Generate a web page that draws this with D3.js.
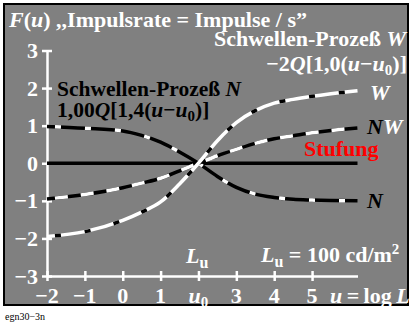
<!DOCTYPE html>
<html>
<head>
<meta charset="utf-8">
<script src="https://cdn.jsdelivr.net/npm/d3@7"></script>
<style>
  body { margin: 0; background: #fff; }
  text { font-family: "Liberation Serif", "Times New Roman", serif; }
</style>
</head>
<body>
<div id="chart"></div>
<script>
// values
var uTicks = [-2, -1, 0, 1, 2, 3, 4, 5];
var uTickLabels = ["\u22122", "\u22121", "0", "1", "u0", "3", "4", "5"];
var yTicks = [-3, -2, -1, 0, 1, 2, 3];
var yTickLabels = ["\u22123", "\u22122", "\u22121", "0", "1", "2", "3"];
var uSample = [-2, -1, 0, 0.5, 1, 1.5, 2, 2.5, 3, 3.5, 4, 4.5, 5, 6.2];
var seriesN  = [0.98, 0.93, 0.86, 0.74, 0.56, 0.3, 0.0, -0.35, -0.64, -0.82, -0.91, -0.96, -0.98, -1.0];
var seriesNW = [-0.95, -0.83, -0.65, -0.53, -0.4, -0.2, 0.0, 0.2, 0.37, 0.53, 0.65, 0.73, 0.81, 0.94];
var seriesW  = [-1.95, -1.82, -1.52, -1.3, -1.03, -0.55, 0.0, 0.6, 1.08, 1.4, 1.6, 1.7, 1.78, 1.93];
var seriesStep = [0, 0];
var uStep = [-2, 6.2];

var width = 411, height = 325;
var svg = d3.select("#chart").append("svg")
	.attr("width", width)
	.attr("height", height);

svg.append("rect")
	.attr("x", 4).attr("y", 4)
	.attr("width", 404).attr("height", 301)
	.attr("fill", "#808080")
	.attr("stroke", "#000")
	.attr("stroke-width", 2);

var x = d3.scaleLinear().domain([-2, 6.2]).range([47, 357.5]);
var y = d3.scaleLinear().domain([-3, 3]).range([276, 50.5]);

// axes
var gx = svg.append("g").attr("transform", "translate(0," + y(-3) + ")")
	.call(d3.axisBottom(x).tickValues(uTicks).tickFormat("").tickSizeOuter(0));
var gy = svg.append("g").attr("transform", "translate(" + x(-2) + ",0)")
	.call(d3.axisLeft(y).tickValues(yTicks).tickFormat("").tickSizeOuter(0));
gx.selectAll("line").attr("y1", -5).attr("y2", 5);
gy.selectAll("line").attr("x1", -5).attr("x2", 5);
svg.selectAll(".domain, .tick line")
	.attr("stroke", "#fff")
	.attr("stroke-width", 2.5);

// tick labels
svg.selectAll(".ylab")
	.data(yTicks)
	.enter()
	.append("text")
	.attr("x", 38)
	.attr("y", function(d) { return y(d) + 7.5; })
	.attr("text-anchor", "end")
	.style("font-size", "22px")
	.style("font-weight", "bold")
	.style("fill", "#fff")
	.text(function(d, i) { return yTickLabels[i]; });

var xl = svg.selectAll(".xlab")
	.data(uTicks)
	.enter()
	.append("text")
	.attr("x", function(d) { return x(d); })
	.attr("y", 303)
	.attr("text-anchor", "middle")
	.style("font-size", "22px")
	.style("font-weight", "bold")
	.style("fill", "#fff");
xl.each(function(d, i) {
	var t = d3.select(this);
	if (uTickLabels[i] == "u0") {
		t.append("tspan").style("font-style", "italic").text("u");
		t.append("tspan").attr("dy", 4).style("font-size", "15px").text("0");
	} else {
		t.text(uTickLabels[i]);
	}
});

// curves
var line = d3.line()
	.x(function(d) { return x(d[0]); })
	.y(function(d) { return y(d[1]); })
	.curve(d3.curveMonotoneX);

function pts(vals) { return uSample.map(function(u, i) { return [u, vals[i]]; }); }

svg.append("path")
	.attr("d", line(uStep.map(function(u, i) { return [u, seriesStep[i]]; })))
	.attr("fill", "none").attr("stroke", "#000").attr("stroke-width", 3.5);

var curves = [
	{ v: seriesN,  base: "#000", dash: "#fff", pat: "6,24" },
	{ v: seriesNW, base: "#000", dash: "#fff", pat: "13,13" },
	{ v: seriesW,  base: "#fff", dash: "#000", pat: "6,24" }
];
curves.forEach(function(c) {
	svg.append("path").attr("d", line(pts(c.v)))
		.attr("fill", "none").attr("stroke", c.base).attr("stroke-width", 3.5);
	svg.append("path").attr("d", line(pts(c.v)))
		.attr("fill", "none").attr("stroke", c.dash).attr("stroke-width", 3.5)
		.attr("stroke-dasharray", c.pat).attr("stroke-dashoffset", -8);
});

// texts
function txt(xp, yp, size, color, anchor) {
	return svg.append("text").attr("x", xp).attr("y", yp)
		.attr("text-anchor", anchor || "start")
		.style("font-size", size + "px")
		.style("font-weight", "bold")
		.style("fill", color);
}

var t = txt(9, 27, 22, "#fff");
t.append("tspan").style("font-style", "italic").text("F");
t.append("tspan").text("(");
t.append("tspan").style("font-style", "italic").text("u");
t.append("tspan").text(")  ,,Impulsrate = Impulse / s\u201d");

t = txt(406, 46, 22, "#fff", "end");
t.append("tspan").text("Schwellen-Proze\u00df ");
t.append("tspan").style("font-style", "italic").text("W");

t = txt(407, 71, 22, "#fff", "end");
t.append("tspan").text("\u22122");
t.append("tspan").style("font-style", "italic").text("Q");
t.append("tspan").text("[1,0(");
t.append("tspan").style("font-style", "italic").text("u");
t.append("tspan").text("\u2212");
t.append("tspan").style("font-style", "italic").text("u");
t.append("tspan").attr("dy", 4).style("font-size", "15px").text("0");
t.append("tspan").attr("dy", -4).text(")]");

t = txt(57, 96, 21.5, "#000");
t.append("tspan").text("Schwellen-Proze\u00df ");
t.append("tspan").style("font-style", "italic").text("N");

t = txt(57, 117, 21.5, "#000");
t.append("tspan").text("1,00");
t.append("tspan").style("font-style", "italic").text("Q");
t.append("tspan").text("[1,4(");
t.append("tspan").style("font-style", "italic").text("u");
t.append("tspan").text("\u2212");
t.append("tspan").style("font-style", "italic").text("u");
t.append("tspan").attr("dy", 4).style("font-size", "15px").text("0");
t.append("tspan").attr("dy", -4).text(")]");

txt(370, 100, 22, "#fff").style("font-style", "italic").text("W");
t = txt(367, 134, 22, "#000").style("font-style", "italic");
t.append("tspan").text("N");
t.append("tspan").style("fill", "#fff").text("W");
txt(304, 156, 22, "#f00").text("Stufung");
txt(367, 208, 22, "#000").style("font-style", "italic").text("N");

t = txt(186, 263, 22, "#fff");
t.append("tspan").style("font-style", "italic").text("L");
t.append("tspan").attr("dy", 5).style("font-size", "16px").text("u");

t = txt(261, 262, 22, "#fff");
t.append("tspan").style("font-style", "italic").text("L");
t.append("tspan").attr("dy", 5).style("font-size", "16px").text("u");
t.append("tspan").attr("dy", -5).text(" = 100 cd/m");
t.append("tspan").attr("dy", -8).style("font-size", "15px").text("2");

t = txt(330, 303, 22, "#fff");
t.append("tspan").style("font-style", "italic").text("u");
t.append("tspan").text("\u2009=\u2009log\u2009");
t.append("tspan").style("font-style", "italic").text("L");

svg.append("text").attr("x", 5).attr("y", 320)
	.style("font-size", "10px").style("fill", "#000").text("egn30\u22123n");
</script>
</body>
</html>
